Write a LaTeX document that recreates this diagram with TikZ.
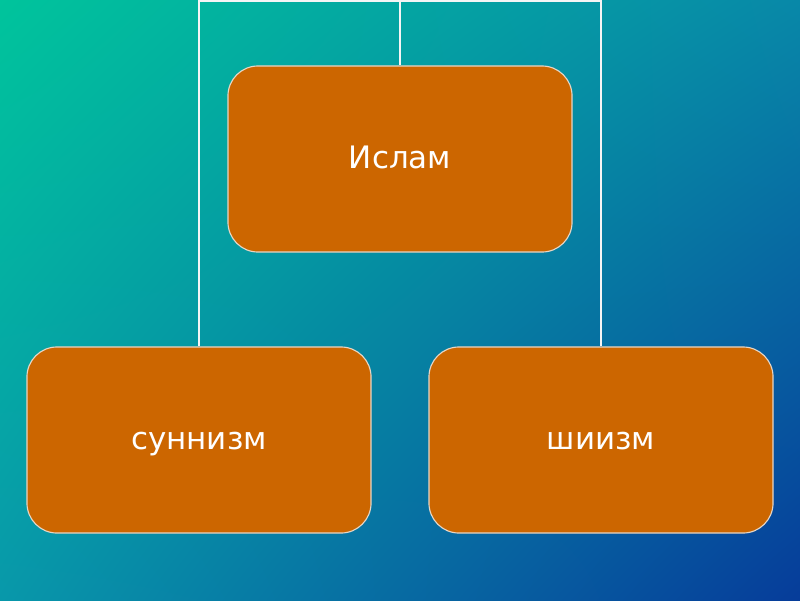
\documentclass[tikz,border=0pt]{standalone}
\usepackage{fontspec}
\setmainfont{DejaVu Sans}
\usetikzlibrary{positioning,shadings}
\definecolor{Ochre}{HTML}{CC6600}
\definecolor{Rim}{HTML}{E6D6C6}
\definecolor{SeaTL}{HTML}{00C49C}
\definecolor{SeaTR}{HTML}{0888A8}
\definecolor{SeaBL}{HTML}{0898AA}
\definecolor{SeaBR}{HTML}{063C9A}
\tikzset{
orgbox/.style={draw=Rim, line width=0.8pt, rounded corners=0.75cm, fill=Ochre, text=white,
  minimum width=8.6cm, minimum height=4.65cm, align=center, text height=13.5pt, text depth=0pt,
  font=\fontsize{22}{26}\selectfont},
orgline/.style={draw=white!92!gray, line width=1.4pt}
}

\begin{document}
\begin{tikzpicture}[x=0.025cm, y=-0.025cm]
  \shade[upper left=SeaTL, upper right=SeaTR, lower left=SeaBL, lower right=SeaBR] (0,0) rectangle (800,600);
  \useasboundingbox (0,0) rectangle (800,600);
  \coordinate (top) at (400,1);
  \node[orgbox] (islam) at (400,159) {Ислам};
  \node[orgbox] (sunni) at (199,440) {суннизм};
  \node[orgbox] (shia) at (601,440) {шиизм};
  \draw[orgline] (top) -- (islam.north);
  \draw[orgline] (sunni.north) -- (sunni.north |- top) -- (shia.north |- top) -- (shia.north);
\end{tikzpicture}
\end{document}
